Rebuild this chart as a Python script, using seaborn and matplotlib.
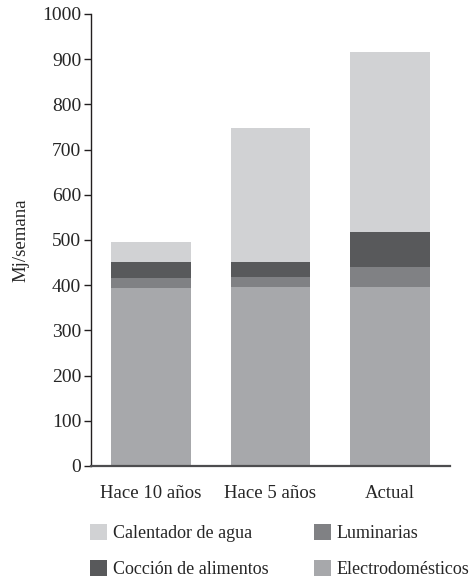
import numpy as np
import pandas as pd
import seaborn as sns
import matplotlib.pyplot as plt
from matplotlib.patches import Patch

periodos = ['Hace 10 años', 'Hace 5 años', 'Actual']
electrodomesticos = [394, 396, 396]
luminarias = [22, 22, 44]
coccion = [35, 33, 78]
calentador = [44, 297, 398]

series = ['Calentador de agua', 'Cocción de alimentos', 'Luminarias', 'Electrodomésticos']
colores = {'Calentador de agua': '#d1d2d4',
           'Cocción de alimentos': '#58595b',
           'Luminarias': '#808184',
           'Electrodomésticos': '#a7a8ab'}

sns.set_style('white')
plt.rcParams['font.family'] = ['Liberation Serif', 'DejaVu Serif']

# apilado: acumulado desde abajo
capas = [('Electrodomésticos', electrodomesticos), ('Luminarias', luminarias),
         ('Cocción de alimentos', coccion), ('Calentador de agua', calentador)]
acum = np.zeros(len(periodos))
df_list = []
for nombre, vals in capas:
    acum = acum + np.array(vals)
    df_list.append(pd.DataFrame({'periodo': periodos, 'valor': acum.copy(), 'serie': nombre}))

fig = plt.figure(figsize=(4.74, 5.82), dpi=100)
ax = fig.add_axes([91/474, 1-466/582, (450-91)/474, (466-14)/582])

# dibujar de la capa mas alta a la mas baja
for d in reversed(df_list):
    sns.barplot(data=d, x='periodo', y='valor', color=colores[d['serie'].iloc[0]],
                width=0.667, saturation=1, ax=ax, errorbar=None, linewidth=0)

ax.set_xlim(-0.5, 2.5)
ax.set_ylim(0, 1000)
ax.set_yticks(range(0, 1001, 100))
ax.set_xlabel('')
ax.set_ylabel('Mj/semana', fontsize=13.5, labelpad=9)
sns.despine(ax=ax)
ax.spines['left'].set_color('#231f20')
ax.spines['left'].set_linewidth(1.0)
ax.spines['bottom'].set_color('#4d4d4f')
ax.spines['bottom'].set_linewidth(1.6)
ax.tick_params(axis='y', direction='out', length=5, width=1, color='#231f20',
               labelsize=14, pad=2, left=True)
ax.tick_params(axis='x', length=0, labelsize=13.5, pad=14)

handles = [Patch(facecolor=colores[s], edgecolor='none', label=s) for s in series]
fig.legend(handles=handles, ncol=2, loc='upper left', bbox_to_anchor=(90/474, 1-524/582),
           frameon=False, fontsize=13, handlelength=0.95, handleheight=0.95,
           handletextpad=0.3, columnspacing=2.55, labelspacing=1.0, borderaxespad=0,
           borderpad=0)

fig.savefig('out.png', dpi=100)
